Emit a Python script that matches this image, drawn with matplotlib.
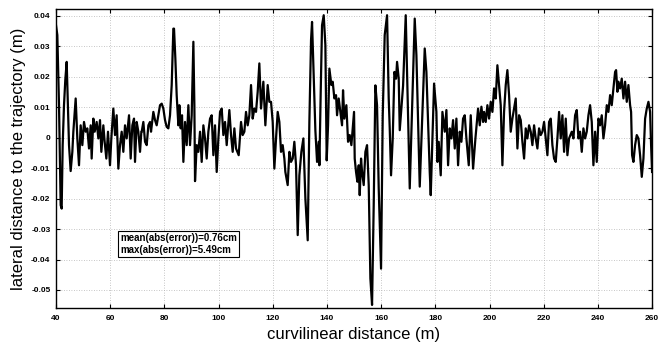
"""
Lateral tracking error along the path (MATLAB-style figure).
"""

import matplotlib
matplotlib.use("Agg")
import matplotlib.pyplot as plt
import numpy as np

# curvilinear distance (m) and lateral error (m)
dist = [
    40.0, 40.49, 41.11, 41.72, 42.09, 42.46, 42.95, 43.44, 43.94, 44.43, 44.80, 45.41,
    46.03, 46.40, 47.26, 47.87, 48.49, 49.10, 49.72, 50.33, 50.95, 51.56, 52.18, 52.80,
    53.16, 53.78, 54.27, 55.01, 55.63, 56.24, 56.73, 57.47, 57.96, 58.58, 59.19, 59.93,
    60.42, 61.16, 61.78, 62.39, 63.01, 63.62, 64.24, 64.85, 65.47, 66.08, 66.95, 67.56,
    68.18, 68.79, 69.16, 69.78, 70.39, 71.01, 71.50,
    71.63, 72.24, 72.86, 73.47, 74.09, 74.70, 75.07, 75.93, 76.55, 77.16, 77.78, 78.39,
    79.01, 79.62, 80.24, 80.85, 81.47, 82.08, 82.70, 83.31, 83.56, 84.05, 84.54, 85.16,
    85.53, 86.02, 86.51, 87.01, 87.62, 88.24, 88.85, 89.47, 90.08, 90.45, 90.70, 91.07,
    91.31, 91.93, 92.54, 93.16, 93.77, 94.39, 95.00, 95.62, 96.23, 96.85, 97.46, 98.08,
    98.69, 99.31, 99.93, 100.54, 101.16, 101.77, 102.39, 103.00,
    103.37, 103.98, 104.60, 105.21, 105.83, 106.44, 107.43, 108.29, 108.90, 109.52, 110.13,
    110.75, 111.36, 111.98, 112.59, 113.21, 113.82, 114.44, 115.05, 115.67, 116.53, 117.27,
    118.13, 118.75, 119.36, 119.98, 120.59, 121.21, 121.82, 122.44, 123.05, 123.67, 124.28,
    124.65, 125.51, 126.13, 126.74, 127.36, 127.97, 128.59, 129.21, 129.82, 130.56, 131.30,
    132.04, 132.90, 133.51, 134.13,
    134.50, 135.12, 135.73, 136.35, 136.96, 137.21, 137.70, 138.19, 138.81, 139.42, 139.91,
    140.41, 140.90, 141.64, 142.13, 142.74, 143.36, 143.73, 144.34, 144.96, 145.57, 145.94,
    146.44, 147.17, 147.79, 148.40, 149.02, 149.51, 150.00, 150.25, 150.74, 151.23, 151.73,
    152.10, 152.59, 152.96, 153.57, 154.19, 154.80, 155.42, 156.03, 156.65, 157.26, 157.88,
    158.49, 159.11, 159.97, 160.59, 161.32, 162.19, 162.80, 163.17, 163.66, 164.28, 164.89,
    165.51, 165.88, 166.49,
    166.87, 168.10, 169.08, 170.56, 172.40, 173.02, 174.25, 176.09, 176.71, 177.94, 178.31,
    179.54, 180.40, 180.77, 181.26, 182.00, 182.62, 183.48, 184.09, 184.71, 185.32, 185.94,
    186.55, 187.17, 187.78, 188.40, 189.01, 189.63, 190.24, 190.86, 191.47, 192.34, 193.07,
    193.94, 194.80, 195.78, 196.40, 197.01, 197.63,
    197.99, 198.61, 199.22, 199.84, 200.45, 201.07, 201.68, 202.30, 202.91, 203.53, 204.14,
    204.76, 205.37, 205.99, 206.60, 207.22, 207.83, 208.45, 209.06, 209.68, 210.30, 210.91,
    211.53, 212.14, 212.76, 213.37, 213.99, 214.60, 215.22, 215.83, 216.45, 217.06, 217.68,
    218.29, 218.91, 219.52, 220.14, 220.75, 221.37, 221.98, 222.60, 223.21, 223.83, 224.45,
    225.06, 225.68, 226.29, 226.91, 227.52, 228.14, 228.75, 229.37,
    230.36, 230.97, 231.59, 232.20, 232.82, 233.43, 234.05, 234.66, 235.28, 235.89, 236.51,
    237.12, 237.74, 238.35, 238.97, 239.58, 240.20, 240.81, 241.43, 242.04, 242.66, 243.28,
    243.89, 244.51, 245.12, 245.74, 246.35, 246.72, 247.21, 247.58, 248.20, 248.81, 249.43,
    250.04, 250.66, 251.27, 251.89, 252.26, 252.63, 253.12, 253.73, 254.35, 254.96, 255.58,
    256.20, 256.81, 257.43, 258.04, 258.66, 259.27, 259.64, 260.0,
]
lateral = [
    0.0368, 0.0336, 0.0106, -0.0222, -0.0233, -0.0025, 0.0106, 0.0190, 0.0248, 0.0095, -0.0025, -0.0110,
    -0.0047, 0.0019, 0.0128, -0.0003, -0.0091, 0.0040, -0.0025, 0.0051, 0.0019, 0.0030, -0.0036, 0.0040,
    -0.0069, 0.0062, 0.0019, 0.0051, -0.0003, 0.0057, -0.0047, 0.0040, -0.0014, -0.0069, 0.0019, -0.0091,
    -0.0003, 0.0095, 0.0008, 0.0073, -0.0102, -0.0025, 0.0019, -0.0047, 0.0040, -0.0003, 0.0073, -0.0069,
    0.0040, 0.0062, -0.0080, 0.0051, 0.0019, -0.0047, 0.0019,
    0.0019, 0.0051, -0.0014, -0.0025, 0.0040, 0.0051, 0.0019, 0.0084, 0.0057, 0.0040, 0.0073, 0.0106,
    0.0111, 0.0095, 0.0057, 0.0035, 0.0030, 0.0073, 0.0172, 0.0357, 0.0357, 0.0259, 0.0139, 0.0040,
    0.0106, 0.0030, 0.0073, -0.0080, 0.0051, -0.0025, 0.0106, -0.0025, 0.0073, 0.0215, 0.0314, 0.0106,
    -0.0143, -0.0025, -0.0047, 0.0019, -0.0080, 0.0040, -0.0003, -0.0069, 0.0019, 0.0062, 0.0073, -0.0058,
    0.0040, -0.0113, -0.0003, 0.0084, 0.0095, 0.0008, 0.0051, -0.0025,
    0.0019, 0.0090, 0.0008, -0.0047, 0.0030, -0.0036, -0.0058, 0.0051, 0.0008, 0.0019, 0.0084,
    0.0040, 0.0073, 0.0172, 0.0062, 0.0095, 0.0084, 0.0150, 0.0243, 0.0095, 0.0183, 0.0040,
    0.0172, 0.0117, 0.0117, 0.0051, -0.0102, -0.0003, 0.0084, 0.0051, -0.0047, -0.0025, -0.0069,
    -0.0113, -0.0156, -0.0047, -0.0080, -0.0069, -0.0014, -0.0091, -0.0320, -0.0124, -0.0047, -0.0003,
    -0.0200, -0.0337, 0.0050, 0.0320,
    0.0379, 0.0200, 0.0023, -0.0080, -0.0014, -0.0091, 0.0150, 0.0368, 0.0401, 0.0303, -0.0075,
    0.0040, 0.0226, 0.0172, 0.0183, 0.0128, 0.0139, 0.0073, 0.0128, 0.0084, 0.0040, 0.0155,
    0.0062, 0.0106, -0.0014, 0.0008, -0.0025, 0.0030, 0.0084, -0.0069, -0.0113, -0.0145, -0.0091,
    -0.0189, -0.0069, -0.0113, -0.0156, -0.0047, -0.0025, -0.0156, -0.0462, -0.0549, -0.0222, 0.0171,
    0.0106, -0.0167, -0.0430, 0.0073, 0.0336, 0.0401, 0.0128, 0.0031, -0.0124, -0.0003, 0.0215,
    0.0193, 0.0248, 0.0193,
    0.0024, 0.0170, 0.0401, -0.0167, 0.0390, 0.0270, -0.0161, 0.0292, 0.0215, -0.0113, -0.0189,
    0.0177, 0.0084, -0.0080, -0.0014, -0.0124, 0.0084, 0.0019, 0.0090, -0.0091, 0.0030, -0.0003,
    0.0057, -0.0036, 0.0062, -0.0091, 0.0019, -0.0014, 0.0062, 0.0073, -0.0003, -0.0091, 0.0073,
    -0.0102, -0.0003, 0.0095, 0.0040, 0.0101, 0.0051,
    0.0084, 0.0051, 0.0106, 0.0062, 0.0117, 0.0084, 0.0161, 0.0128, 0.0237, 0.0172, 0.0106,
    -0.0091, 0.0084, 0.0172, 0.0221, 0.0139, 0.0019, 0.0062, 0.0095, 0.0128, -0.0036, 0.0073,
    0.0057, -0.0014, -0.0069, 0.0030, -0.0003, 0.0040, 0.0019, -0.0025, 0.0040, -0.0003, -0.0036,
    0.0030, 0.0008, 0.0019, 0.0051, -0.0003, -0.0058, 0.0051, 0.0062, -0.0025, -0.0069, -0.0080,
    -0.0003, 0.0084, -0.0003, 0.0073, -0.0047, 0.0062, -0.0058, -0.0003,
    0.0019, -0.0003, 0.0073, 0.0090, -0.0003, 0.0019, -0.0047, 0.0030, -0.0003, 0.0019, 0.0073,
    0.0106, 0.0051, -0.0091, 0.0019, -0.0080, 0.0062, 0.0040, 0.0073, -0.0003, 0.0040, 0.0106,
    0.0084, 0.0139, 0.0106, 0.0161, 0.0215, 0.0221, 0.0150, 0.0183, 0.0161, 0.0193, 0.0128,
    0.0183, 0.0117, 0.0172, 0.0106, 0.0084, -0.0058, -0.0080, -0.0025, 0.0008, -0.0003, -0.0058,
    -0.0129, -0.0069, 0.0062, 0.0095, 0.0117, 0.0084, -0.0025, -0.0113,
]

x_ticks = list(range(40, 261, 20))
y_ticks = [-0.05, -0.04, -0.03, -0.02, -0.01, 0.0, 0.01, 0.02, 0.03, 0.04]
y_tick_labels = ["-0.05", "-0.04", "-0.03", "-0.02", "-0.01", "0",
                 "0.01", "0.02", "0.03", "0.04"]
stats_text = "mean(abs(error))=0.76cm\nmax(abs(error))=5.49cm"

plt.rcParams["font.family"] = ["Liberation Sans", "DejaVu Sans"]

fig = plt.figure(figsize=(6.62, 3.49), dpi=100)
ax = fig.add_axes([0.0846, 0.1175, 0.9004, 0.8555])

ax.plot(dist, lateral, color="black", linewidth=1.6)

ax.set_xlim(40, 260)
ax.set_ylim(-0.0559, 0.042)
ax.set_xticks(x_ticks)
ax.set_xticklabels([str(t) for t in x_ticks], fontsize=6, fontweight="bold")
ax.set_yticks(y_ticks)
ax.set_yticklabels(y_tick_labels, fontsize=6, fontweight="bold")
ax.tick_params(direction="in", length=3, width=0.8, top=True, right=True)
ax.tick_params(axis="x", pad=5)
ax.tick_params(axis="y", pad=4)

ax.grid(True, linestyle=(0, (1, 2)), color="#b4b4b4", linewidth=0.6)
for s in ax.spines.values():
    s.set_linewidth(1.0)
    s.set_color("black")

ax.set_xlabel("curvilinear distance (m)", fontsize=12, labelpad=4)
ax.set_ylabel("lateral distance to the trajectory (m)", fontsize=12, labelpad=4)

ax.text(63.6, -0.0314, stats_text, fontsize=7, fontweight="bold",
        va="top", ha="left", linespacing=1.2,
        bbox=dict(boxstyle="square,pad=0.25", facecolor="white",
                  edgecolor="black", linewidth=0.8))

fig.savefig("out.png", dpi=100)
